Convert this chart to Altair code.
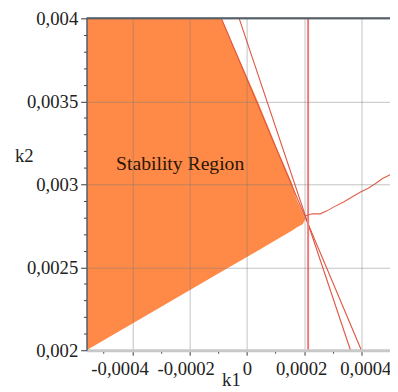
import altair as alt
import pandas as pd

# ---- data ----
# Stability region (upper and lower boundaries along k1)
fill_k1 = [-0.00056, -0.000089, 0.000038, 0.000109, 0.000157, 0.000174, 0.000195, 0.000204]
fill_hi = [0.004, 0.004, 0.0035, 0.0032, 0.00301, 0.00291, 0.00283, 0.00279]
fill_lo = [0.002, 0.002473, 0.0026, 0.002672, 0.00272, 0.00274, 0.00276, 0.00279]

# two straight boundary lines
lineP_k1 = [-0.000089, 0.0004]
lineP_k2 = [0.004, 0.002]
lineQ_k1 = [-0.000027, 0.000362]
lineQ_k2 = [0.004, 0.002]

# vertical boundary
vline_k1 = [0.000214]

# wiggly curve to the right of the tip
curve_k1 = [0.000205, 0.000229, 0.000256, 0.000280, 0.000304, 0.000338, 0.000373,
            0.000397, 0.000424, 0.000451, 0.000475, 0.000503]
curve_k2 = [0.002811, 0.002822, 0.002822, 0.002840, 0.002864, 0.002893, 0.002929,
            0.002953, 0.002976, 0.003006, 0.003036, 0.003059]

# axes
x_major = [-0.0004, -0.0002, 0.0, 0.0002, 0.0004]
x_major_labels = ["-0,0004", "-0,0002", "0", "0,0002", "0,0004"]
x_label_shift = [-13, -4, 0, -3, 4]
x_minor = [-0.0005, -0.0003, -0.0001, 0.0001, 0.0003]
y_major = [0.002, 0.0025, 0.003, 0.0035, 0.004]
y_major_labels = ["0,002", "0,0025", "0,003", "0,0035", "0,004"]
y_minor = [0.0021, 0.0022, 0.0023, 0.0024, 0.0026, 0.0027, 0.0028, 0.0029,
           0.0031, 0.0032, 0.0033, 0.0034, 0.0036, 0.0037, 0.0038, 0.0039]

label_text = ["Stability Region"]
label_k1 = [-0.000233]
label_k2 = [0.003124]

x_domain = [-0.00056, 0.0005]
y_domain = [0.002, 0.004]

W, H = 309, 338
FONT = "Liberation Serif"


def label_expr(vals, labels):
    expr = "''"
    for v, l in zip(vals, labels):
        expr = f"abs(datum.value - ({v})) < 1e-9 ? '{l}' : ({expr})"
    return expr


def is_val(v):
    return f"abs(datum.value - ({v})) < 1e-9"


def major_test(vals):
    return " || ".join(is_val(v) for v in vals)


x_axis = alt.Axis(
    values=x_major + x_minor,
    labelExpr=label_expr(x_major, x_major_labels),
    title="k1", titleFontSize=19, titleFontWeight="normal",
    titleColor="#222", titleX=147, titleY=36, titleAnchor="start", titleAlign="center",
    titleBaseline="alphabetic",
    labelFontSize=19, labelColor="#222", labelPadding=5,
    labelFlush=False, labelOverlap=False,
    labelOffset={"condition": [{"test": is_val(v), "value": s}
                               for v, s in zip(x_major, x_label_shift) if s != 0],
                 "value": 0},
    tickSize={"condition": {"test": major_test(x_major), "value": 5}, "value": 3},
    tickColor="#333", tickWidth=1,
    gridOpacity={"condition": {"test": major_test(x_major), "value": 0.45}, "value": 0},
    gridColor="#777", gridWidth=1,
    domainColor="#c8c8c8", domainWidth=3, zindex=1,
)
y_axis = alt.Axis(
    values=y_major + y_minor,
    labelExpr=label_expr(y_major, y_major_labels),
    title="k2", titleFontSize=19, titleFontWeight="normal",
    titleColor="#222", titleAngle=0, titleX=-64, titleY=140, titleAlign="center",
    titleBaseline="middle", titleAnchor="start",
    labelFontSize=19, labelColor="#222", labelPadding=3,
    labelFlush=False, labelOverlap=False,
    tickSize={"condition": {"test": major_test(y_major), "value": 6}, "value": 3},
    tickColor="#333", tickWidth=1,
    gridOpacity={"condition": {"test": major_test(y_major), "value": 0.45}, "value": 0},
    gridColor="#777", gridWidth=1,
    domainColor="#556070", domainWidth=1.5, zindex=1,
)

xs = alt.Scale(domain=x_domain, nice=False, zero=False)
ys = alt.Scale(domain=y_domain, nice=False, zero=False)

x_enc = alt.X("k1:Q", scale=xs, axis=x_axis)
y_enc = alt.Y("k2:Q", scale=ys, axis=y_axis)

fill_df = pd.DataFrame({"k1": fill_k1, "k2": fill_hi, "lo": fill_lo})
lines_df = pd.DataFrame({
    "k1": lineP_k1 + lineQ_k1,
    "k2": lineP_k2 + lineQ_k2,
    "id": ["P"] * len(lineP_k1) + ["Q"] * len(lineQ_k1),
})
vline_df = pd.DataFrame({"k1": vline_k1})
curve_df = pd.DataFrame({"k1": curve_k1, "k2": curve_k2})
text_df = pd.DataFrame({"k1": label_k1, "k2": label_k2, "t": label_text})

area = alt.Chart(fill_df).mark_area(color="#FF8A48", opacity=1, clip=True).encode(
    x=x_enc, y=y_enc, y2="lo:Q"
)
lines = alt.Chart(lines_df).mark_line(color="#E0533F", strokeWidth=1.1, clip=True).encode(
    x=x_enc, y=y_enc, detail="id:N"
)
vline = alt.Chart(vline_df).mark_rule(color="#F07878", strokeWidth=2).encode(x=x_enc)
curve = alt.Chart(curve_df).mark_line(color="#E06048", strokeWidth=1.1, clip=True).encode(
    x=x_enc, y=y_enc
)
text = alt.Chart(text_df).mark_text(fontSize=20, color="#2a1505").encode(
    x=x_enc, y=y_enc, text="t:N"
)
top_border = alt.Chart(vline_df).mark_rule(color="#4a5560", strokeWidth=2).encode(
    x=alt.value(0), x2=alt.value(W), y=alt.value(0)
)

chart = alt.layer(area, lines, vline, curve, text, top_border).properties(
    width=W, height=H,
    autosize=alt.AutoSizeParams(type="none"),
    padding={"left": 80, "top": 7, "right": 0, "bottom": 40},
).configure_view(strokeWidth=0).configure(background="white", font=FONT).configure_axis(
    labelFont=FONT, titleFont=FONT
).configure_text(font=FONT)

chart.save("out.html", embed_options={"renderer": "svg", "actions": False})
